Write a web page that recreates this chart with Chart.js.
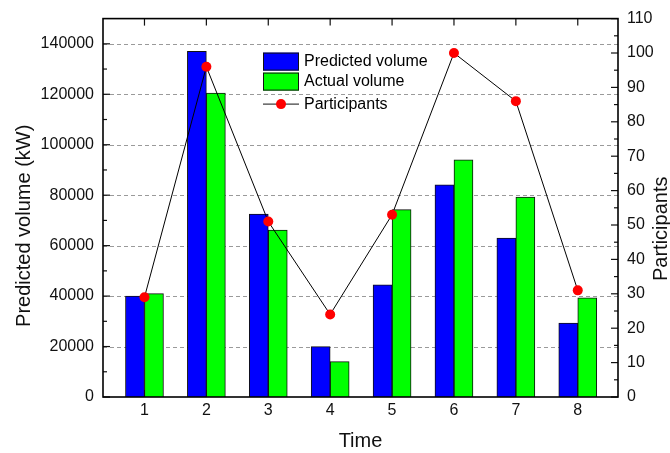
<!DOCTYPE html>
<html><head><meta charset="utf-8">
<script src="https://cdn.jsdelivr.net/npm/chart.js@4.4.0/dist/chart.umd.min.js"></script>
<style>html,body{margin:0;padding:0;background:#fff;}#wrap{width:670px;height:453px;}</style>
</head><body><div id="wrap"><canvas id="c" width="670" height="453"></canvas></div>
<script>
const categories = [1, 2, 3, 4, 5, 6, 7, 8];
const predictedVolume = [40000, 137000, 72500, 20000, 44500, 84100, 63000, 29300];
const actualVolume = [41000, 120500, 66200, 14000, 74300, 94000, 79200, 39300];
const participants = [29, 96, 51, 24, 53, 100, 86, 31];
const leftTicks = [0, 20000, 40000, 60000, 80000, 100000, 120000, 140000];
const rightTicks = [0, 10, 20, 30, 40, 50, 60, 70, 80, 90, 100, 110];
const leftTitle = 'Predicted volume (kW)';
const rightTitle = 'Participants';

const FONT = "'Liberation Sans', Arial, sans-serif";
const toXY = (arr) => categories.map((c, i) => ({x: c, y: arr[i]}));

const framePlugin = {
  id: 'frame',
  beforeDatasetsDraw(chart) {
    const {ctx, chartArea: ca, scales} = chart;
    ctx.save();
    ctx.strokeStyle = '#9a9a9a';
    ctx.lineWidth = 1;
    ctx.setLineDash([4, 3]);
    leftTicks.forEach(v => {
      if (v === 0) return;
      const y = Math.round(scales.y.getPixelForValue(v)) + 0.5;
      ctx.beginPath(); ctx.moveTo(ca.left, y); ctx.lineTo(ca.right, y); ctx.stroke();
    });
    ctx.setLineDash([]);
    ctx.strokeStyle = '#000';
    ctx.lineWidth = 1.2;
    categories.forEach(c => {
      const x = scales.x.getPixelForValue(c);
      ctx.beginPath(); ctx.moveTo(x, ca.bottom); ctx.lineTo(x, ca.bottom - 7); ctx.stroke();
    });
    ctx.restore();
  },
  afterDatasetsDraw(chart) {
    const {ctx, chartArea: ca, scales} = chart;
    ctx.save();
    ctx.strokeStyle = '#111';
    ctx.lineWidth = 1.2;
    const tick = (x1, y1, x2, y2) => { ctx.beginPath(); ctx.moveTo(x1, y1); ctx.lineTo(x2, y2); ctx.stroke(); };
    leftTicks.forEach((v, i) => {
      const y = scales.y.getPixelForValue(v);
      tick(ca.left, y, ca.left + 7, y);
      if (i < leftTicks.length - 1) {
        const ym = scales.y.getPixelForValue((v + leftTicks[i + 1]) / 2);
        tick(ca.left, ym, ca.left + 4, ym);
      }
    });
    rightTicks.forEach((v, i) => {
      const y = scales.y1.getPixelForValue(v);
      tick(ca.right, y, ca.right - 7, y);
      if (i < rightTicks.length - 1) {
        const ym = scales.y1.getPixelForValue((v + rightTicks[i + 1]) / 2);
        tick(ca.right, ym, ca.right - 4, ym);
      }
    });
    categories.forEach(c => {
      const x = scales.x.getPixelForValue(c);
      tick(x, ca.top, x, ca.top + 7);
    });
    ctx.lineWidth = 1.6;
    ctx.strokeStyle = '#000';
    ctx.strokeRect(ca.left, ca.top, ca.right - ca.left, ca.bottom - ca.top);
    ctx.restore();
  },
  afterDraw(chart) {
    const {ctx, chartArea: ca} = chart;
    const ds = chart.data.datasets;
    const lx = ca.left + 160, ly = ca.top + 34;
    ctx.save();
    ctx.font = '16px ' + FONT;
    ctx.textBaseline = 'middle';
    ctx.textAlign = 'left';
    ctx.fillStyle = '#0000FF';
    ctx.fillRect(lx, ly, 36, 18);
    ctx.strokeStyle = '#111'; ctx.lineWidth = 1;
    ctx.strokeRect(lx + 0.5, ly + 0.5, 35, 17);
    ctx.fillStyle = '#00FF00';
    ctx.fillRect(lx, ly + 20, 36, 18);
    ctx.strokeRect(lx + 0.5, ly + 20.5, 35, 17);
    ctx.beginPath(); ctx.moveTo(lx, ly + 51.5); ctx.lineTo(lx + 36, ly + 51.5); ctx.stroke();
    ctx.fillStyle = '#FF0000';
    ctx.beginPath(); ctx.arc(lx + 18, ly + 51.5, 5, 0, Math.PI * 2); ctx.fill();
    ctx.fillStyle = '#000';
    ctx.fillText(ds[1].label, lx + 41, ly + 9);
    ctx.fillText(ds[2].label, lx + 41, ly + 29);
    ctx.fillText(ds[0].label, lx + 41, ly + 51.5);
    // axis titles, both reading bottom-to-top
    ctx.font = '20px ' + FONT;
    ctx.fillStyle = '#111';
    ctx.textAlign = 'center';
    const midY = (ca.top + ca.bottom) / 2;
    ctx.save();
    ctx.translate(24, midY + 18);
    ctx.rotate(-Math.PI / 2);
    ctx.fillText(leftTitle, 0, 0);
    ctx.restore();
    ctx.save();
    ctx.translate(ca.right + 43, midY + 21);
    ctx.rotate(-Math.PI / 2);
    ctx.fillText(rightTitle, 0, 0);
    ctx.restore();
    ctx.restore();
  }
};

new Chart(document.getElementById('c'), {
  type: 'bar',
  data: {
    datasets: [
      {
        type: 'line', label: 'Participants', data: toXY(participants), yAxisID: 'y1', xAxisID: 'x',
        borderColor: '#000', borderWidth: 1, tension: 0,
        pointRadius: 5, pointBackgroundColor: '#FF0000', pointBorderColor: '#FF0000', pointBorderWidth: 0,
        order: 0
      },
      {
        type: 'bar', label: 'Predicted volume', data: toXY(predictedVolume), yAxisID: 'y', xAxisID: 'x',
        backgroundColor: '#0000FF', borderColor: '#111', borderWidth: 1, barThickness: 19, order: 1
      },
      {
        type: 'bar', label: 'Actual volume', data: toXY(actualVolume), yAxisID: 'y', xAxisID: 'x',
        backgroundColor: '#00FF00', borderColor: '#111', borderWidth: 1, barThickness: 19, order: 1
      }
    ]
  },
  options: {
    responsive: false,
    animation: false,
    devicePixelRatio: 1,
    layout: {padding: {top: 17, left: 0, right: 0, bottom: 0}},
    plugins: {legend: {display: false}, tooltip: {enabled: false}},
    scales: {
      x: {
        type: 'linear', position: 'bottom', min: 0.33, max: 8.65, offset: false,
        afterBuildTicks: s => { s.ticks = categories.map(v => ({value: v})); },
        afterFit: s => { s.height = 56; },
        grid: {display: false, drawTicks: false}, border: {display: false},
        ticks: {font: {family: FONT, size: 16}, color: '#111', padding: 4, callback: v => String(v), maxRotation: 0, autoSkip: false},
        title: {display: true, text: 'Time', font: {family: FONT, size: 20}, color: '#111', padding: {top: 0, bottom: 0}}
      },
      y: {
        type: 'linear', position: 'left', min: 0, max: 150000,
        afterBuildTicks: s => { s.ticks = leftTicks.map(v => ({value: v})); },
        afterFit: s => { s.width = 103; },
        grid: {display: false, drawTicks: false}, border: {display: false},
        ticks: {font: {family: FONT, size: 16}, color: '#111', padding: 9, callback: v => String(v)},
        title: {display: false}
      },
      y1: {
        type: 'linear', position: 'right', min: 0, max: 110,
        afterBuildTicks: s => { s.ticks = rightTicks.map(v => ({value: v})); },
        afterFit: s => { s.width = 52; },
        grid: {display: false, drawTicks: false}, border: {display: false},
        ticks: {font: {family: FONT, size: 16}, color: '#111', padding: 9, callback: v => String(v)},
        title: {display: false}
      }
    }
  },
  plugins: [framePlugin]
});
</script>
</body></html>
